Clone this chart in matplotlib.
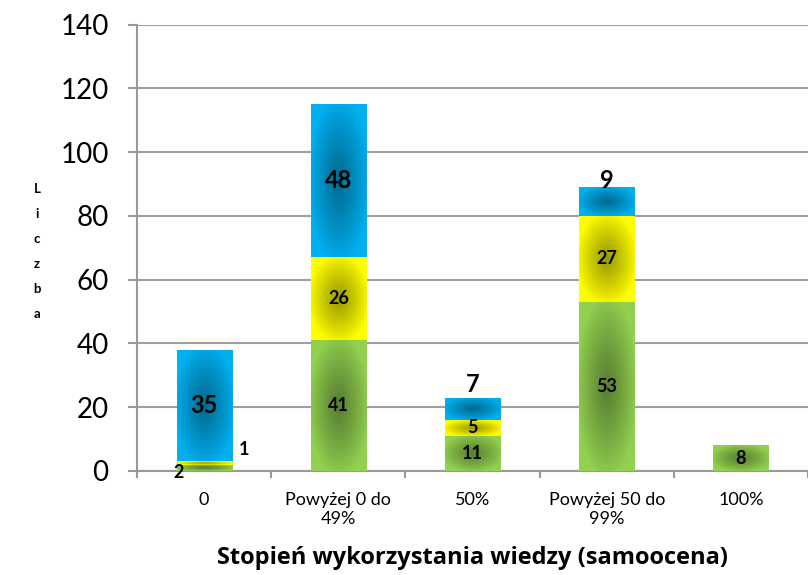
import numpy as np
import matplotlib.pyplot as plt
from matplotlib.colors import to_rgb

plt.rcParams['font.family'] = ['Lato', 'DejaVu Sans']

# dane
kategorie = ['0', 'Powyżej 0 do\n49%', '50%', 'Powyżej 50 do\n99%', '100%']
zielone = [2, 41, 11, 53, 8]
zolte = [1, 26, 5, 27, 0]
niebieskie = [35, 48, 7, 9, 0]

kolory = ['#92D050', '#FFFF00', '#00B0F0']
serie = [zielone, zolte, niebieskie]

fig = plt.figure(figsize=(8.08, 5.75), dpi=100)
ax = fig.add_axes([0.1696, 0.181, 0.8304, 0.776])

x = np.arange(len(kategorie))


def gradient(ax, rect, kolor, ciemnosc=0.4):
    # ciemny srodek, jasne brzegi (gradient od srodka)
    x0, y0 = rect.get_x(), rect.get_y()
    w, h = rect.get_width(), rect.get_height()
    if h <= 0:
        return
    u = np.linspace(-1, 1, 80)
    v = np.linspace(-1, 1, 160)
    U, V = np.meshgrid(u, v)
    r = np.sqrt(U ** 2 + V ** 2)
    t = np.clip(1 - r / 1.1, 0, 1) ** 0.9
    c = np.array(to_rgb(kolor))
    img = c[None, None, :] * (1 - ciemnosc * t[:, :, None])
    im = ax.imshow(img, extent=[x0, x0 + w, y0, y0 + h], aspect='auto',
                   origin='lower', zorder=3, interpolation='bilinear')
    im.set_clip_path(rect)


dol = np.zeros(len(kategorie))
for wart, kol in zip(serie, kolory):
    bary = ax.bar(x, wart, 0.41, bottom=dol, color=kol, zorder=2, linewidth=0)
    for b in bary:
        gradient(ax, b, kol)
    dol += np.array(wart)

# etykiety wartosci
przesuniete = {(0, 0): (-0.19, -0.6), (0, 1): (0.3, 6.6),
               (2, 2): (2, 27), (3, 2): (3, 91)}
duze = {(0, 2), (1, 2), (2, 2), (3, 2)}
dol = np.zeros(len(kategorie))
for s, wart in enumerate(serie):
    for i, v in enumerate(wart):
        if v > 0:
            pos = przesuniete.get((i, s), (x[i], dol[i] + v / 2))
            rozm = 17 if (i, s) in duze else 13
            ax.text(pos[0], pos[1], str(v), ha='center', va='center',
                    fontsize=rozm, fontweight='bold', color='black', zorder=5)
    dol += np.array(wart)

ax.set_xlim(-0.5, len(kategorie) - 0.5)
ax.set_ylim(0, 140)
ax.set_yticks(np.arange(0, 141, 20))
ax.tick_params(axis='y', labelsize=20, length=6.5, width=1.5, color='#999999',
               pad=14)
ax.set_xticks(x)
ax.set_xticklabels(kategorie, fontsize=13, linespacing=1.25)
ax.tick_params(axis='x', which='major', length=0, pad=15)
ax.set_xticks(np.arange(-0.5, len(kategorie)), minor=True)
ax.tick_params(axis='x', which='minor', length=5, width=1.5, color='#999999')

ax.grid(axis='y', color='#A0A0A0', linewidth=1.5, zorder=0)
ax.set_axisbelow(True)
for s in ['top', 'right']:
    ax.spines[s].set_visible(False)
for s in ['left', 'bottom']:
    ax.spines[s].set_color('#999999')
    ax.spines[s].set_linewidth(1.5)

ax.set_xlabel('Stopień wykorzystania wiedzy (samoocena)', fontsize=17,
              fontweight='bold', family=['Open Sans', 'DejaVu Sans'],
              labelpad=14)
fig.text(0.046, 0.563, '\n'.join('Liczba'), ha='center', va='center',
         fontsize=9.5, fontweight='bold', linespacing=2.3)

fig.savefig('out.png', dpi=100)
